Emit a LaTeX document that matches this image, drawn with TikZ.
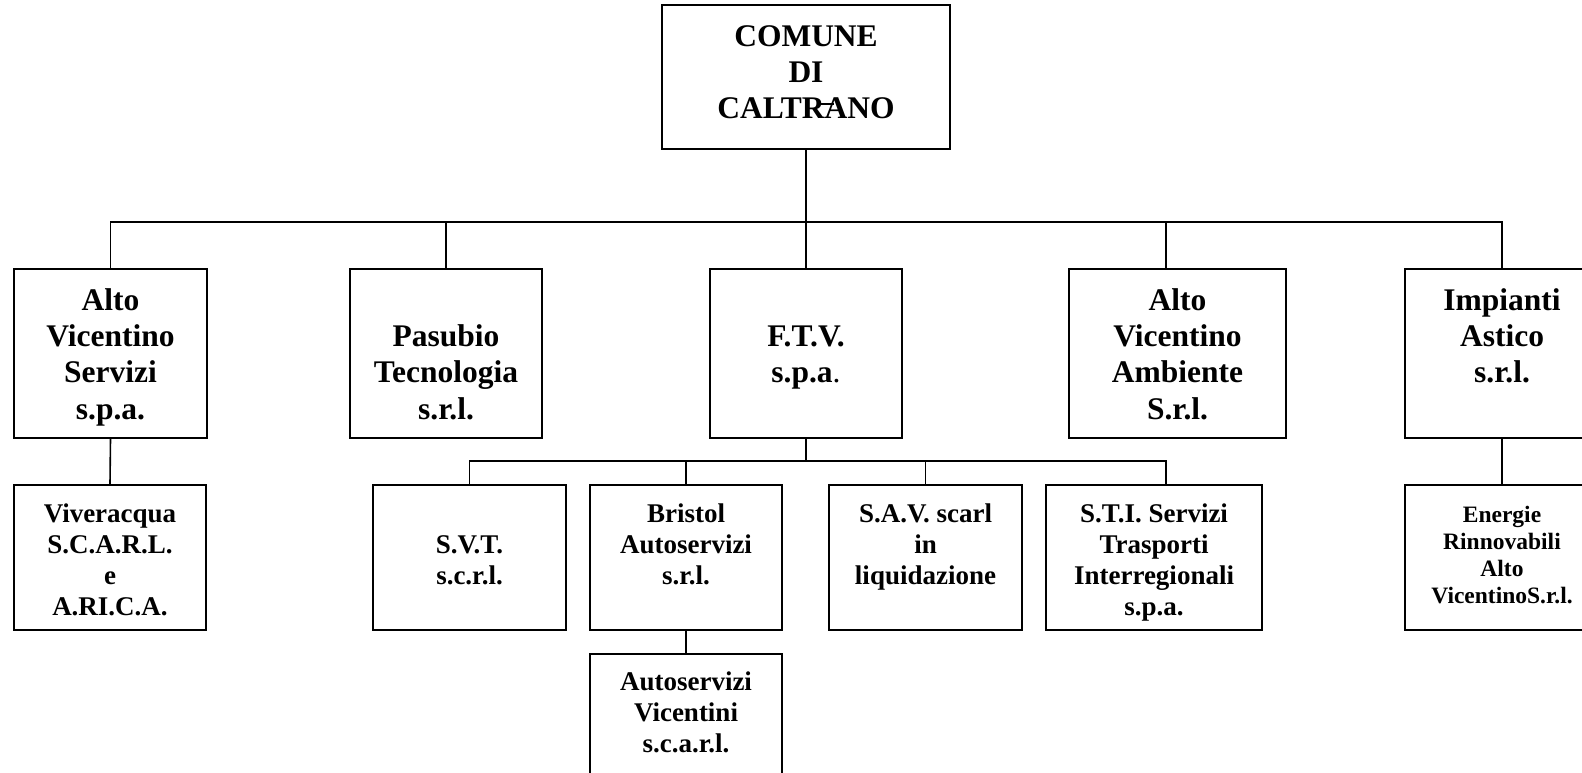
\documentclass[tikz,border=0pt]{standalone}
\usepackage{fontspec}
\setmainfont{Liberation Serif}
\newcommand\upstrut[1]{\rule{0pt}{\dimexpr0.7\baselineskip+#1\relax}}
\begin{document}
\begin{tikzpicture}[x=1pt,y=-1pt,
  box/.style={draw,line width=1.8pt,rectangle,inner sep=0pt,align=center,font=\bfseries\fontsize{31.5}{36.2}\selectfont},
  small/.style={box,font=\bfseries\fontsize{27}{31}\selectfont},
  tiny/.style={box,font=\bfseries\fontsize{23.5}{27.2}\selectfont},
  conn/.style={line width=1.6pt}]
\useasboundingbox (0,0) rectangle (1582,773);
\clip (0,0) rectangle (1582,773);
% top
\node[box,minimum width=288pt,minimum height=144pt] (top) at (806,77) {};
\node[font=\bfseries\fontsize{31.5}{36.2}\selectfont,align=center,inner sep=0pt] (toptxt) at (806,75) {\strut COMUNE\\DI\\CALTRANO\strut};
\draw[line width=1.4pt] (817,104) -- (834,104);
% row 1
\node[box,minimum width=193pt,minimum height=169pt] (avs) at (110.5,353.5) {\upstrut{8pt}Alto\\Vicentino\\Servizi\\s.p.a.\strut};
\node[box,minimum width=192pt,minimum height=169pt] (pas) at (446,353.5) {\upstrut{8pt}\\Pasubio\\Tecnologia\\s.r.l.\strut};
\node[box,minimum width=192pt,minimum height=169pt] (ftv) at (806,353.5) {\upstrut{8pt}\\F.T.V.\\s.p.a{\mdseries .}\\\strut};
\node[box,minimum width=217pt,minimum height=169pt] (ava) at (1177.5,353.5) {\upstrut{8pt}Alto\\Vicentino\\Ambiente\\S.r.l.\strut};
\node[box,minimum width=194pt,minimum height=169pt] (imp) at (1502,353.5) {\upstrut{8pt}Impianti\\Astico\\s.r.l.\\\strut};
% row 2
\node[small,minimum width=192pt,minimum height=145pt] (viv) at (110,557.5) {\upstrut{10pt}Viveracqua\\S.C.A.R.L.\\e\\A.RI.C.A.\strut};
\node[small,minimum width=193pt,minimum height=145pt] (svt) at (469.5,557.5) {\upstrut{10pt}\\S.V.T.\\s.c.r.l.\\\strut};
\node[small,minimum width=192pt,minimum height=145pt] (bri) at (686,557.5) {\upstrut{10pt}Bristol\\Autoservizi\\s.r.l.\\\strut};
\node[small,minimum width=193pt,minimum height=145pt] (sav) at (925.5,557.5) {\upstrut{10pt}S.A.V. scarl\\in\\liquidazione\\\strut};
\node[small,minimum width=216pt,minimum height=145pt] (sti) at (1154,557.5) {\upstrut{10pt}S.T.I. Servizi\\Trasporti\\Interregionali\\s.p.a.\strut};
\node[tiny,minimum width=194pt,minimum height=145pt] (ene) at (1502,557.5) {\strut Energie\\Rinnovabili\\Alto\\VicentinoS.r.l.\strut};
% row 3
\node[small,minimum width=192pt,minimum height=145pt] (avv) at (686,726.5) {\upstrut{8pt}Autoservizi\\Vicentini\\s.c.a.r.l.\\\strut};
% tap points
\coordinate (bus) at (806,222);
\coordinate (avaT) at (1166,269);
\coordinate (sub) at (806,461);
\coordinate (stiT) at (1166,485);
% connectors
\draw[conn] (top.south) -- (bus);
\draw[conn] (avs.north) |- (bus) -| (imp.north);
\draw[conn] (pas.north) -- (pas.north |- bus);
\draw[conn] (ftv.north) -- (bus);
\draw[conn] (avaT) -- (avaT |- bus);
\draw[conn] (ftv.south) -- (sub);
\draw[conn] (svt.north) |- (sub) -| (stiT);
\draw[conn] (bri.north) -- (bri.north |- sub);
\draw[conn] (sav.north) -- (sav.north |- sub);
\draw[conn] (avs.south) -- (viv.north);
\draw[conn] (imp.south) -- (ene.north);
\draw[conn] (bri.south) -- (avv.north);
\end{tikzpicture}
\end{document}
